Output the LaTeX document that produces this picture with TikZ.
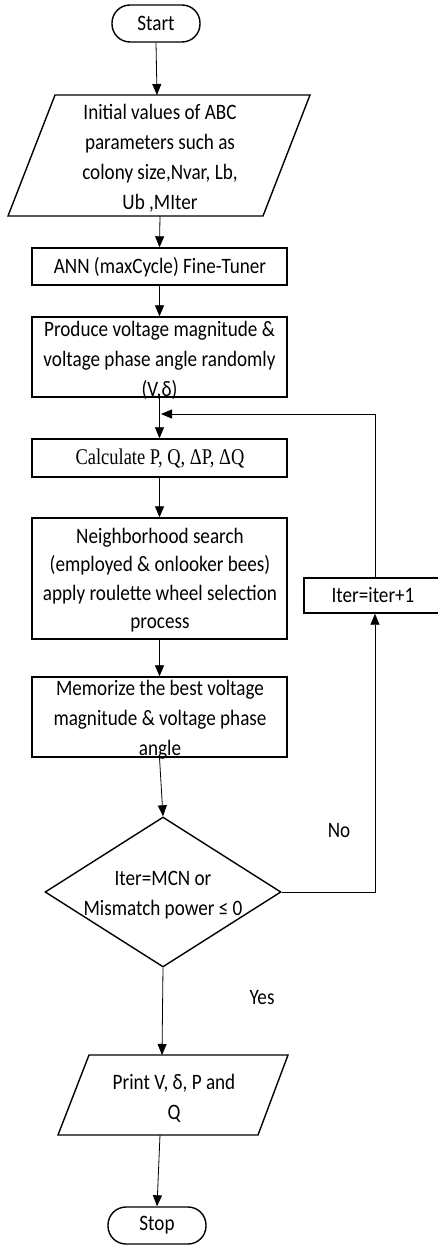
\documentclass[tikz,border=0pt]{standalone}
\usepackage{fontspec}
\setmainfont{Carlito}[FakeStretch=0.87]
\newfontfamily\serifface{Liberation Serif}[FakeStretch=0.82]
\usetikzlibrary{arrows.meta,shapes.geometric}

\begin{document}
\begin{tikzpicture}[x=1pt,y=-1pt,
  txt/.style={font=\fontsize{22}{30}\selectfont, align=center, inner sep=0pt},
  shapeline/.style={draw, line width=1.4pt},
  stepbox/.style={shapeline, rectangle, minimum width=255pt, inner sep=0pt},
  term/.style={shapeline, rectangle, rounded corners=18pt, inner sep=0pt,
    minimum height=37pt, font=\fontsize{22}{30}\selectfont},
  decision/.style={shapeline, diamond, inner sep=0pt,
    minimum width=236pt, minimum height=150pt},
  conn/.style={draw, line width=0.8pt, -{Triangle[length=11pt,width=9pt]}}]
\useasboundingbox (0,0) rectangle (437,1245);

% terminals
\node[term, minimum width=88pt] (start) at (156,23.5) {Start};
\node[term, minimum width=98pt] (stop) at (157,1225.5) {Stop};

% input parallelogram
\draw[shapeline] (55,95) -- (310,95) -- (263,216) -- (8,216) -- cycle;
\coordinate (init-n) at (157,95);
\coordinate (init-s) at (160,216);
\node[txt] (init) at (160,158) {Initial values of ABC\\parameters such as\\colony size,Nvar, Lb,\\Ub ,MIter};

% process boxes
\node[stepbox, minimum height=37pt] (ann) at (159.5,266.5) {};
\node[txt] (ann-t) at (160,267.5) {ANN (maxCycle) Fine-Tuner};

\node[stepbox, minimum height=80pt] (produce) at (159.5,357) {};
\node[txt] (produce-t) at (159.5,360) {Produce voltage magnitude \&\\voltage phase angle randomly\\(V,δ)};

\node[stepbox, minimum height=38pt] (calc) at (159.5,458) {};
\node[txt, font=\serifface\fontsize{22.5}{30}\selectfont] (calc-t) at (160,459) {Calculate P, Q, ΔP, ΔQ};

\node[stepbox, minimum height=121pt] (neigh) at (159.5,578.5) {};
\node[txt, font=\fontsize{22}{28.5}\selectfont] (neigh-t) at (160,580) {Neighborhood search\\(employed \& onlooker bees)\\apply roulette wheel selection\\process};

\node[stepbox, minimum height=80pt] (memo) at (159.5,717) {};
\node[txt] (memo-t) at (160,720) {Memorize the best voltage\\magnitude \& voltage phase\\angle};

% decision
\node[decision] (dec) at (163,892) {};
\node[txt] (dec-t) at (163,895) {Iter=MCN or\\Mismatch power ≤ 0};

% counter update
\node[shapeline, rectangle, minimum width=142pt, minimum height=35pt, inner sep=0pt] (iter) at (375,595.5) {};
\node[txt] (iter-t) at (373,595) {Iter=iter+1};

% output parallelogram
\draw[shapeline] (89,1055) -- (288,1055) -- (258,1135) -- (58,1135) -- cycle;
\coordinate (print-n) at (162,1055);
\coordinate (print-s) at (160,1135);
\node[txt] (print) at (174,1098) {Print V, δ, P and\\Q};

% branch labels
\node[txt] (no) at (339,831) {No};
\node[txt] (yes) at (262,998) {Yes};

% connectors
\coordinate (join) at (161,414);
\draw[conn] (start.south) -- (init-n);
\draw[conn] (init-s) -- (ann.north);
\draw[conn] (ann.south) -- (produce.north);
\draw[conn] (produce.south) -- (calc.north);
\draw[conn] (calc.south) -- (neigh.north);
\draw[conn] (neigh.south) -- (memo.north);
\draw[conn] (memo.south) -- (dec.north);
\draw[conn] (dec.south) -- (print-n);
\draw[conn] (print-s) -- (stop.north);
\draw[conn] (dec.east) -| (iter.south);
\draw[conn] (iter.north) |- (join);
\end{tikzpicture}
\end{document}
